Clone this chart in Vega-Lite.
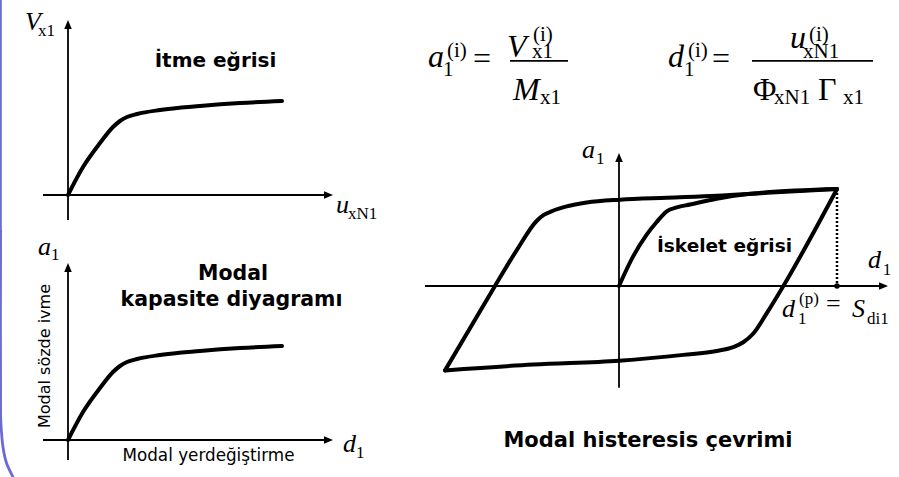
{
  "$schema": "https://vega.github.io/schema/vega-lite/v6.json",
  "padding": 0,
  "spacing": 0,
  "background": "white",
  "config": {"view": {"stroke": null}, "concat": {"spacing": 0}},
  "datasets": {
    "pushover": [
      {"x": 0, "y": 0}, {"x": 0.75, "y": 0.28}, {"x": 1.6, "y": 0.52}, {"x": 2.25, "y": 0.68},
      {"x": 2.6, "y": 0.74}, {"x": 2.95, "y": 0.78}, {"x": 3.45, "y": 0.81}, {"x": 4.6, "y": 0.85},
      {"x": 6.6, "y": 0.89}, {"x": 8.6, "y": 0.92}, {"x": 10.7, "y": 0.94}
    ],
    "loop": [
      {"branch": "upper", "x": -7.98, "y": -0.87}, {"branch": "upper", "x": -5.69, "y": 0},
      {"branch": "upper", "x": -4.69, "y": 0.37}, {"branch": "upper", "x": -3.78, "y": 0.67},
      {"branch": "upper", "x": -3.47, "y": 0.73}, {"branch": "upper", "x": -3.09, "y": 0.77},
      {"branch": "upper", "x": -2.4, "y": 0.82}, {"branch": "upper", "x": -1.48, "y": 0.86},
      {"branch": "upper", "x": 0.05, "y": 0.89}, {"branch": "upper", "x": 2.19, "y": 0.91},
      {"branch": "upper", "x": 4.48, "y": 0.93}, {"branch": "upper", "x": 6.78, "y": 0.96},
      {"branch": "upper", "x": 10, "y": 1},
      {"branch": "lower", "x": -7.98, "y": -0.87}, {"branch": "lower", "x": -3.93, "y": -0.81},
      {"branch": "lower", "x": 0, "y": -0.77}, {"branch": "lower", "x": 2.95, "y": -0.71},
      {"branch": "lower", "x": 4.48, "y": -0.67}, {"branch": "lower", "x": 5.24, "y": -0.63},
      {"branch": "lower", "x": 5.7, "y": -0.58}, {"branch": "lower", "x": 6.16, "y": -0.49},
      {"branch": "lower", "x": 6.78, "y": -0.28}, {"branch": "lower", "x": 7.54, "y": 0},
      {"branch": "lower", "x": 10, "y": 1},
      {"branch": "skeleton", "x": 0, "y": 0}, {"branch": "skeleton", "x": 0.66, "y": 0.31},
      {"branch": "skeleton", "x": 1.27, "y": 0.53}, {"branch": "skeleton", "x": 1.73, "y": 0.66},
      {"branch": "skeleton", "x": 2.19, "y": 0.77}, {"branch": "skeleton", "x": 2.65, "y": 0.81},
      {"branch": "skeleton", "x": 3.26, "y": 0.84}, {"branch": "skeleton", "x": 4.48, "y": 0.9},
      {"branch": "skeleton", "x": 6.01, "y": 0.95}, {"branch": "skeleton", "x": 10, "y": 1}
    ]
  },
  "hconcat": [
    {
      "spacing": 0,
      "vconcat": [
        {
          "width": 390,
          "height": 230,
          "encoding": {
            "x": {"field": "x", "type": "quantitative", "scale": {"domain": [-3.4, 16.1], "nice": false, "zero": false}, "axis": null},
            "y": {"field": "y", "type": "quantitative", "scale": {"domain": [-0.35, 1.95], "nice": false, "zero": false}, "axis": null}
          },
          "layer": [
            {
              "data": {"values": [{"x": -3.37, "y": 2.0}, {"x": -3.37, "y": -0.4}]},
              "mark": {"type": "line", "color": "#6b6bd3", "strokeWidth": 2.4, "clip": true},
              "encoding": {"order": {"value": null}}
            },
            {
              "data": {"values": [{"x": -1.25, "y": 0, "x2": 12.9, "y2": 0}, {"x": 0, "y": -0.25, "x2": 0, "y2": 1.68}]},
              "mark": {"type": "rule", "color": "black", "strokeWidth": 1.8},
              "encoding": {"x2": {"field": "x2"}, "y2": {"field": "y2"}}
            },
            {
              "data": {"values": [{"x": 13.25, "y": 0}]},
              "mark": {"type": "point", "shape": "M0,0L-1,-0.42L-1,0.42Z", "filled": true, "size": 324, "color": "black", "opacity": 1, "strokeWidth": 0}
            },
            {
              "data": {"values": [{"x": 0, "y": 1.75}]},
              "mark": {"type": "point", "shape": "M0,0L-0.42,1L0.42,1Z", "filled": true, "size": 324, "color": "black", "opacity": 1, "strokeWidth": 0}
            },
            {
              "data": {"name": "pushover"},
              "mark": {"type": "line", "color": "black", "strokeWidth": 4, "interpolate": "monotone", "strokeCap": "round", "strokeJoin": "round"}
            },
            {
              "data": {"values": [{"x": -2.15, "y": 1.65, "t": "V"}, {"x": 13.4, "y": -0.18, "t": "u"}]},
              "mark": {"type": "text", "font": "Liberation Serif", "fontStyle": "italic", "fontSize": 26, "align": "left", "baseline": "alphabetic", "color": "black"},
              "encoding": {"text": {"field": "t"}}
            },
            {
              "data": {"values": [{"x": -1.5, "y": 1.59, "t": "x1"}, {"x": 14.0, "y": -0.24, "t": "xN1"}]},
              "mark": {"type": "text", "font": "Liberation Serif", "fontSize": 17, "align": "left", "baseline": "alphabetic", "color": "black"},
              "encoding": {"text": {"field": "t"}}
            },
            {
              "data": {"values": [{"x": 7.375, "y": 1.28, "t": "İtme eğrisi"}]},
              "mark": {"type": "text", "font": "DejaVu Sans", "fontWeight": "bold", "fontSize": 20, "align": "center", "baseline": "alphabetic", "color": "black"},
              "encoding": {"text": {"field": "t"}}
            }
          ]
        },
        {
          "width": 390,
          "height": 247,
          "encoding": {
            "x": {"field": "x", "type": "quantitative", "scale": {"domain": [-3.4, 16.1], "nice": false, "zero": false}, "axis": null},
            "y": {"field": "y", "type": "quantitative", "scale": {"domain": [-0.37, 2.1], "nice": false, "zero": false}, "axis": null}
          },
          "layer": [
            {
              "data": {"values": [
                {"x": -3.37, "y": 2.15}, {"x": -3.37, "y": 0.25}, {"x": -3.35, "y": 0.15},
                {"x": -3.25, "y": -0.07}, {"x": -3.075, "y": -0.23}, {"x": -2.75, "y": -0.37}, {"x": -2.6, "y": -0.43}
              ]},
              "mark": {"type": "line", "color": "#6b6bd3", "strokeWidth": 2.8, "interpolate": "catmull-rom", "clip": true},
              "encoding": {"order": {"value": null}}
            },
            {
              "data": {"values": [{"x": -1.25, "y": 0, "x2": 12.9, "y2": 0}, {"x": 0, "y": -0.2, "x2": 0, "y2": 1.7}]},
              "mark": {"type": "rule", "color": "black", "strokeWidth": 1.8},
              "encoding": {"x2": {"field": "x2"}, "y2": {"field": "y2"}}
            },
            {
              "data": {"values": [{"x": 13.25, "y": 0}]},
              "mark": {"type": "point", "shape": "M0,0L-1,-0.42L-1,0.42Z", "filled": true, "size": 324, "color": "black", "opacity": 1, "strokeWidth": 0}
            },
            {
              "data": {"values": [{"x": 0, "y": 1.77}]},
              "mark": {"type": "point", "shape": "M0,0L-0.42,1L0.42,1Z", "filled": true, "size": 324, "color": "black", "opacity": 1, "strokeWidth": 0}
            },
            {
              "data": {"name": "pushover"},
              "mark": {"type": "line", "color": "black", "strokeWidth": 4, "interpolate": "monotone", "strokeCap": "round", "strokeJoin": "round"}
            },
            {
              "data": {"values": [{"x": -1.5, "y": 1.85, "t": "a"}, {"x": 13.75, "y": -0.12, "t": "d"}]},
              "mark": {"type": "text", "font": "Liberation Serif", "fontStyle": "italic", "fontSize": 26, "align": "left", "baseline": "alphabetic", "color": "black"},
              "encoding": {"text": {"field": "t"}}
            },
            {
              "data": {"values": [{"x": -0.85, "y": 1.8, "t": "1"}, {"x": 14.4, "y": -0.18, "t": "1"}]},
              "mark": {"type": "text", "font": "Liberation Serif", "fontSize": 17, "align": "left", "baseline": "alphabetic", "color": "black"},
              "encoding": {"text": {"field": "t"}}
            },
            {
              "data": {"values": [{"x": 8.25, "y": 1.6, "t": "Modal"}, {"x": 8.175, "y": 1.34, "t": "kapasite diyagramı"}]},
              "mark": {"type": "text", "font": "DejaVu Sans", "fontWeight": "bold", "fontSize": 20.5, "align": "center", "baseline": "alphabetic", "color": "black"},
              "encoding": {"text": {"field": "t"}}
            },
            {
              "data": {"values": [{"x": -0.9, "y": 0.84, "t": "Modal sözde ivme"}]},
              "mark": {"type": "text", "font": "DejaVu Sans", "fontSize": 16, "angle": 270, "align": "center", "baseline": "alphabetic", "color": "black"},
              "encoding": {"text": {"field": "t"}}
            },
            {
              "data": {"values": [{"x": 7.025, "y": -0.21, "t": "Modal yerdeğiştirme"}]},
              "mark": {"type": "text", "font": "DejaVu Sans", "fontSize": 16.8, "align": "center", "baseline": "alphabetic", "color": "black"},
              "encoding": {"text": {"field": "t"}}
            }
          ]
        }
      ]
    },
    {
      "width": 509,
      "height": 477,
      "encoding": {
        "x": {"field": "x", "type": "quantitative", "scale": {"domain": [-10.505, 12.844], "nice": false, "zero": false}, "axis": null},
        "y": {"field": "y", "type": "quantitative", "scale": {"domain": [-1.969, 2.948], "nice": false, "zero": false}, "axis": null}
      },
      "layer": [
        {
          "data": {"values": [{"x": -8.9, "y": 0, "x2": 12.0, "y2": 0}, {"x": 0, "y": -1.05, "x2": 0, "y2": 1.3}]},
          "mark": {"type": "rule", "color": "black", "strokeWidth": 1.8},
          "encoding": {"x2": {"field": "x2"}, "y2": {"field": "y2"}}
        },
        {
          "data": {"values": [{"x": 12.34, "y": 0}]},
          "mark": {"type": "point", "shape": "M0,0L-1,-0.42L-1,0.42Z", "filled": true, "size": 324, "color": "black", "opacity": 1, "strokeWidth": 0}
        },
        {
          "data": {"values": [{"x": 0, "y": 1.371}]},
          "mark": {"type": "point", "shape": "M0,0L-0.42,1L0.42,1Z", "filled": true, "size": 324, "color": "black", "opacity": 1, "strokeWidth": 0}
        },
        {
          "data": {"values": [{"x": 10, "y": 1, "x2": 10, "y2": 0}]},
          "mark": {"type": "rule", "color": "black", "strokeWidth": 2.5, "strokeDash": [2, 2]},
          "encoding": {"x2": {"field": "x2"}, "y2": {"field": "y2"}}
        },
        {
          "data": {"values": [{"x": 10, "y": 0}]},
          "mark": {"type": "point", "shape": "circle", "filled": true, "size": 30, "color": "black", "opacity": 1, "strokeWidth": 0}
        },
        {
          "data": {"name": "loop"},
          "mark": {"type": "line", "color": "black", "strokeWidth": 4, "interpolate": "monotone", "strokeCap": "round", "strokeJoin": "round"},
          "encoding": {"detail": {"field": "branch"}}
        },
        {
          "data": {"values": [{"x": -5.0, "y": 2.32, "x2": -2.339, "y2": 2.32}, {"x": 6.101, "y": 2.32, "x2": 11.651, "y2": 2.32}]},
          "mark": {"type": "rule", "color": "black", "strokeWidth": 1.6},
          "encoding": {"x2": {"field": "x2"}, "y2": {"field": "y2"}}
        },
        {
          "data": {"values": [
            {"x": -8.761, "y": 2.258, "t": "a"}, {"x": -5.138, "y": 2.361, "t": "V"},
            {"x": -4.862, "y": 1.918, "t": "M"}, {"x": 2.248, "y": 2.258, "t": "d"},
            {"x": 7.844, "y": 2.454, "t": "u"}
          ]},
          "mark": {"type": "text", "font": "Liberation Serif", "fontStyle": "italic", "fontSize": 32, "align": "left", "baseline": "alphabetic", "color": "black"},
          "encoding": {"text": {"field": "t"}}
        },
        {
          "data": {"values": [
            {"x": -6.697, "y": 2.237, "t": "="}, {"x": 4.266, "y": 2.237, "t": "="},
            {"x": 6.147, "y": 1.918, "t": "Φ"}, {"x": 9.128, "y": 1.918, "t": "Γ"}
          ]},
          "mark": {"type": "text", "font": "Liberation Serif", "fontSize": 32, "align": "left", "baseline": "alphabetic", "color": "black"},
          "encoding": {"text": {"field": "t"}}
        },
        {
          "data": {"values": [
            {"x": -8.073, "y": 2.165, "t": "1"}, {"x": -7.89, "y": 2.361, "t": "(i)"},
            {"x": -3.991, "y": 2.351, "t": "x1"}, {"x": -3.945, "y": 2.526, "t": "(i)"},
            {"x": -3.624, "y": 1.876, "t": "x1"}, {"x": 2.982, "y": 2.165, "t": "1"},
            {"x": 3.165, "y": 2.361, "t": "(i)"}, {"x": 8.44, "y": 2.351, "t": "xN1"},
            {"x": 8.716, "y": 2.526, "t": "(i)"}, {"x": 7.11, "y": 1.876, "t": "xN1"},
            {"x": 10.275, "y": 1.876, "t": "x1"}
          ]},
          "mark": {"type": "text", "font": "Liberation Serif", "fontSize": 21, "align": "left", "baseline": "alphabetic", "color": "black"},
          "encoding": {"text": {"field": "t"}}
        },
        {
          "data": {"values": [
            {"x": -1.697, "y": 1.32, "t": "a"}, {"x": 11.422, "y": 0.186, "t": "d"},
            {"x": 7.477, "y": -0.32, "t": "d"}, {"x": 10.688, "y": -0.32, "t": "S"}
          ]},
          "mark": {"type": "text", "font": "Liberation Serif", "fontStyle": "italic", "fontSize": 26, "align": "left", "baseline": "alphabetic", "color": "black"},
          "encoding": {"text": {"field": "t"}}
        },
        {
          "data": {"values": [{"x": 9.495, "y": -0.268, "t": "="}]},
          "mark": {"type": "text", "font": "Liberation Serif", "fontSize": 26, "align": "left", "baseline": "alphabetic", "color": "black"},
          "encoding": {"text": {"field": "t"}}
        },
        {
          "data": {"values": [
            {"x": -1.06, "y": 1.258, "t": "1"}, {"x": 12.1, "y": 0.113, "t": "1"},
            {"x": 8.211, "y": -0.392, "t": "1"}, {"x": 8.257, "y": -0.186, "t": "(p)"},
            {"x": 11.376, "y": -0.392, "t": "di1"}
          ]},
          "mark": {"type": "text", "font": "Liberation Serif", "fontSize": 17, "align": "left", "baseline": "alphabetic", "color": "black"},
          "encoding": {"text": {"field": "t"}}
        },
        {
          "data": {"values": [{"x": 4.839, "y": 0.351, "t": "İskelet eğrisi"}]},
          "mark": {"type": "text", "font": "DejaVu Sans", "fontWeight": "bold", "fontSize": 18.5, "align": "center", "baseline": "alphabetic", "color": "black"},
          "encoding": {"text": {"field": "t"}}
        },
        {
          "data": {"values": [{"x": 1.33, "y": -1.657, "t": "Modal histeresis çevrimi"}]},
          "mark": {"type": "text", "font": "DejaVu Sans", "fontWeight": "bold", "fontSize": 21, "align": "center", "baseline": "alphabetic", "color": "black"},
          "encoding": {"text": {"field": "t"}}
        }
      ]
    }
  ]
}
